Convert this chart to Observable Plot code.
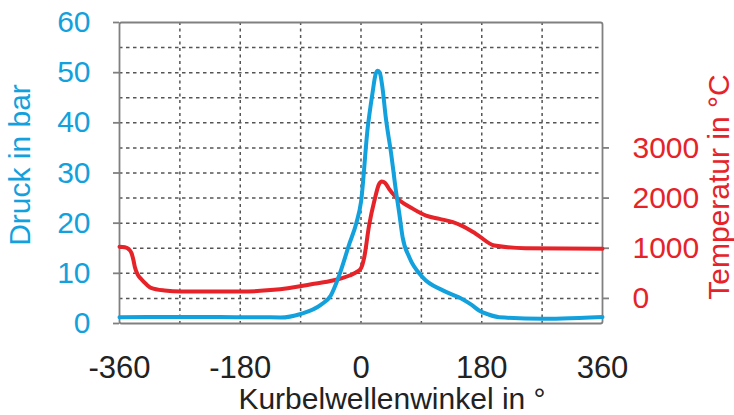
<!DOCTYPE html>
<html>
<head>
<meta charset="utf-8">
<script src="https://cdn.jsdelivr.net/npm/d3@7"></script>
<script src="https://cdn.jsdelivr.net/npm/@observablehq/plot@0.6"></script>
<style>
  html, body { margin: 0; padding: 0; background: #fff; }
  #chart svg { display: block; }
</style>
</head>
<body>
<div id="chart"></div>
<script>
// Cylinder pressure (bar) over crank angle (°)
const pressureAngle = [-360, -300, -240, -180, -150, -120, -90, -60, -45, -33, -17, -7, 0, 10, 17, 22, 25, 28, 32, 37, 45, 52, 57, 62, 72, 92, 122, 146, 152, 165, 176, 190, 206, 270, 300, 360];
const pressure      = [1.25, 1.3, 1.3, 1.25, 1.25, 1.2, 1.9, 3.7, 5.6, 9.4, 16, 20, 24.2, 39, 45.8, 49.8, 50.4, 50, 47, 41, 33.8, 26.5, 22, 17.2, 13.2, 9.2, 6.6, 5.2, 4.8, 3.7, 2.6, 1.8, 1.25, 0.94, 1.0, 1.3];

// Gas temperature (°C) over crank angle (°)
const tempAngle   = [-360, -352, -346, -342, -339, -337, -333, -328, -320, -313, -293, -268, -180, -130, -70, -42, -17, -5, 0, 5, 12, 20, 27, 31, 36, 42, 52, 77, 97, 117, 137, 150, 171, 199, 245, 360];
const temperature = [1030, 1020, 980, 900, 750, 620, 480, 390, 280, 210, 157, 137, 137, 171, 291, 357, 456, 540, 600, 830, 1450, 1950, 2280, 2330, 2300, 2180, 2020, 1790, 1650, 1585, 1520, 1450, 1290, 1054, 1000, 990];

// Axis ticks
const angleTicks = [-360, -180, 0, 180, 360];
const angleGrid = [-270, -180, -90, 0, 90, 180, 270];
const pressureTicks = [0, 10, 20, 30, 40, 50, 60];
const pressureGrid = [5, 10, 15, 20, 25, 30, 35, 40, 45, 50, 55];
const tempTicks = [0, 1000, 2000, 3000];

// Secondary axis: temperature shares the pressure scale (0 °C ↔ 5 bar, 100 °C per bar)
const tempToBar = t => t / 100 + 5;
const barToTemp = p => String(Math.round((p - 5) * 100));

const pressureData = pressureAngle.map((a, i) => ({angle: a, value: pressure[i]}));
const tempData = tempAngle.map((a, i) => ({angle: a, value: tempToBar(temperature[i])}));

const blue = "#12a1dd";
const red = "#e52329";
const gridColor = "#555";
const frameColor = "#808080";
const font = "'Liberation Sans', Arial, Helvetica, sans-serif";
const plain = d => String(d);

const chart = Plot.plot({
  width: 734,
  height: 415,
  marginLeft: 119,
  marginRight: 132,
  marginTop: 22,
  marginBottom: 92,
  style: {fontFamily: font, fontSize: "30px", background: "#fff", overflow: "visible"},
  x: {domain: [-360, 360]},
  y: {domain: [0, 60]},
  marks: [
    Plot.gridX(angleGrid, {stroke: gridColor, strokeOpacity: 1, strokeWidth: 1.5, strokeDasharray: "3,3.5"}),
    Plot.gridY(pressureGrid, {stroke: gridColor, strokeOpacity: 1, strokeWidth: 1.5, strokeDasharray: "3.5,3.5"}),
    Plot.frame({stroke: frameColor, strokeWidth: 1.8, rx: 2}),
    // left pressure axis
    Plot.axisY({ticks: pressureTicks, tickFormat: plain, anchor: "left", tickSize: 6, tickPadding: 23, stroke: frameColor, strokeWidth: 1.8, fill: blue, label: null, fontSize: 30}),
    // right temperature axis
    Plot.axisY({ticks: tempTicks.map(tempToBar), tickFormat: barToTemp, anchor: "right", tickSize: 6, tickPadding: 24, stroke: frameColor, strokeWidth: 1.8, fill: red, label: null, fontSize: 30}),
    // crank angle axis
    Plot.axisX({ticks: angleTicks, tickFormat: plain, tickSize: 0, tickPadding: 32, fill: "#222", label: null, fontSize: 31}),
    Plot.line(tempData, {x: "angle", y: "value", stroke: red, strokeWidth: 4, curve: "monotone-x"}),
    Plot.line(pressureData, {x: "angle", y: "value", stroke: blue, strokeWidth: 4, curve: "monotone-x"}),
    // axis titles
    Plot.text(["Kurbelwellenwinkel in °"], {frameAnchor: "bottom", dx: 31, dy: 76, fill: "#222", fontSize: 30, lineAnchor: "middle"}),
    Plot.text(["Druck in bar"], {frameAnchor: "left", rotate: -90, textAnchor: "middle", lineAnchor: "middle", dx: -99, dy: -8, fill: blue, fontSize: 30}),
    Plot.text(["Temperatur in °C"], {frameAnchor: "right", rotate: -90, textAnchor: "middle", lineAnchor: "middle", dx: 117, dy: 14, fill: red, fontSize: 30})
  ]
});

document.getElementById("chart").appendChild(chart);
</script>
</body>
</html>
